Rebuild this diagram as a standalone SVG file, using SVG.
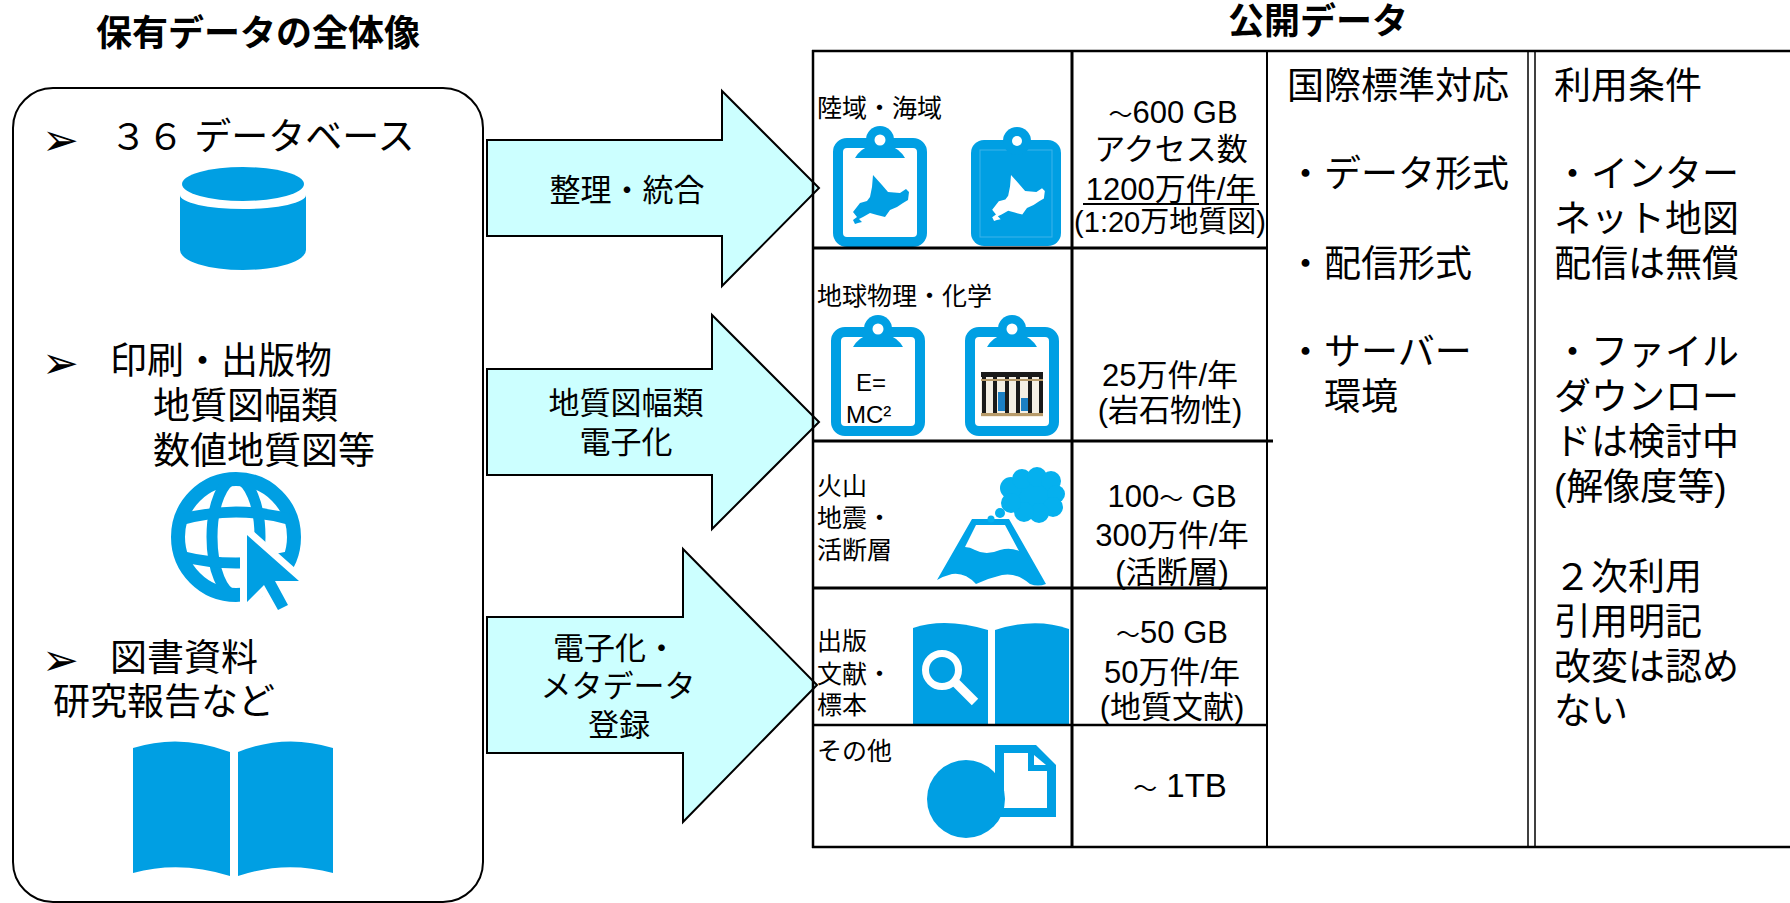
<svg xmlns="http://www.w3.org/2000/svg" xmlns:xlink="http://www.w3.org/1999/xlink" width="1790" height="903" viewBox="0 0 1790 903">
  <style>
    .t { font-family: "Liberation Sans", "Noto Sans CJK JP", sans-serif; fill: #000; }
    .h { font-size: 36px; font-weight: bold; text-anchor: middle; }
    .l { font-size: 37px; }
    .a { font-size: 31px; text-anchor: middle; }
    .c1 { font-size: 25px; }
    .c2 { font-size: 31px; text-anchor: middle; }
    .c2s { font-size: 29px; text-anchor: middle; }
    .c3 { font-size: 37px; }
    .tl { font-size: 24px; }
    .bul { font-family: "DejaVu Sans", sans-serif; font-size: 44px; fill: #000; }
    .ico { fill: #009FE3; }
    .arrow { fill: #CCFFFF; stroke: #000; stroke-width: 2; stroke-linejoin: miter; }
    .grid { stroke: #000; fill: none; }
  </style>
  <defs>
    <!-- outlined clipboard, local box 94 x 109 -->
    <g id="clipboard">
      <rect x="5" y="5" width="84" height="99" rx="9" fill="#fff" stroke="#009FE3" stroke-width="10"/>
      <path class="ico" d="M22 20 Q28 10 36 9 L58 9 Q66 10 72 20 Z"/>
      <circle class="ico" cx="47" cy="2" r="14"/>
      <circle cx="47" cy="2" r="5.5" fill="#fff"/>
    </g>
    <path id="hokkaido" d="M873 175 L882 185 L888 192 L900 193 L906 189 L909 192 L908 200 L903 203 L897 207 L890 210 L885 217 L877 215 L870 213 L863 217 L859 219 L862 222 L858 223 L855 224 L853 220 L857 217 L853 212 L860 203 L867 201 L870 197 L872 187 Z"/>
  </defs>

  <!-- headings -->
  <g id="heading-holdings">
    <text class="t h" x="258" y="46">保有データの全体像</text>
  </g>
  <g id="heading-public">
    <text class="t h" x="1318" y="34">公開データ</text>
  </g>

  <!-- holdings panel -->
  <g id="holdings">
    <rect x="13" y="88" width="470" height="814" rx="40" fill="none" stroke="#000" stroke-width="2"/>
    <text class="bul" x="42" y="155">➢</text>
    <text class="t l" x="110" y="150">３６ データベース</text>
    <!-- database cylinder -->
    <ellipse class="ico" cx="243" cy="184" rx="61" ry="17"/>
    <path class="ico" d="M180 195 A63 14 0 0 0 306 195 L306 250 A63 20 0 0 1 180 250 Z"/>

    <text class="bul" x="42" y="378">➢</text>
    <text class="t l" x="110" y="374">印刷・出版物</text>
    <text class="t l" x="153" y="419">地質図幅類</text>
    <text class="t l" x="153" y="464">数値地質図等</text>
    <!-- web globe with pointer -->
    <g fill="none" stroke="#009FE3">
      <circle cx="236" cy="537" r="58" stroke-width="14"/>
      <ellipse cx="236" cy="537" rx="24" ry="58" stroke-width="11"/>
      <path d="M180 520 Q236 504 292 520" stroke-width="11"/>
      <path d="M180 556 Q236 570 292 556" stroke-width="11"/>
    </g>
    <path d="M247 535 L247 602 L264 585 L278 610 L288 605 L275 581 L299 581 Z" fill="#fff" stroke="#fff" stroke-width="14" stroke-linejoin="round"/>
    <path class="ico" d="M247 535 L247 602 L264 585 L278 610 L288 605 L275 581 L299 581 Z"/>

    <text class="bul" x="42" y="675">➢</text>
    <text class="t l" x="110" y="671">図書資料</text>
    <text class="t l" x="53" y="715">研究報告など</text>
    <!-- open book -->
    <path class="ico" d="M133 748 Q180 733 230 752 L230 876 Q180 860 133 873 Z"/>
    <path class="ico" d="M238 752 Q285 733 333 748 L333 873 Q285 860 238 876 Z"/>
  </g>

  <!-- flow arrows -->
  <g id="connectors">
    <g id="arrow-organize">
      <polygon class="arrow" points="487,140 722,140 722,91 819,188 722,286 722,236 487,236"/>
      <text class="t a" x="627" y="201">整理・統合</text>
    </g>
    <g id="arrow-digitize-maps">
      <polygon class="arrow" points="487,369 712,369 712,315 819,422 712,529 712,475 487,475"/>
      <text class="t a" x="626" y="414">地質図幅類</text>
      <text class="t a" x="626" y="453">電子化</text>
    </g>
    <g id="arrow-metadata">
      <polygon class="arrow" points="487,617 683,617 683,549 817,685 683,822 683,753 487,753"/>
      <text class="t a" x="615" y="659">電子化・</text>
      <text class="t a" x="618" y="697">メタデータ</text>
      <text class="t a" x="619" y="736">登録</text>
    </g>
  </g>

  <!-- public data table -->
  <g id="public-data-table">
    <g id="row-land-sea">
      <text class="t c1" x="817" y="117">陸域・海域</text>
      <use xlink:href="#clipboard" x="833" y="138"/>
      <use xlink:href="#hokkaido" class="ico"/>
      <rect class="ico" x="971" y="140" width="90" height="106" rx="13"/>
      <rect x="980" y="150" width="72" height="87" fill="none" stroke="#3DB3EA" stroke-width="1"/>
      <circle class="ico" cx="1017" cy="141" r="14"/>
      <circle cx="1017" cy="141" r="5" fill="#fff"/>
      <use xlink:href="#hokkaido" fill="#fff" transform="translate(1011 175) scale(0.94) translate(-873 -175)"/>
      <text class="t c2" x="1173" y="123"><tspan class="tl">～</tspan>600 GB</text>
      <text class="t c2" x="1171" y="160">アクセス数</text>
      <text class="t c2" x="1171" y="200">1200万件/年</text>
      <line x1="1083" y1="204" x2="1259" y2="204" stroke="#000" stroke-width="2"/>
      <text class="t c2s" x="1170" y="232">(1:20万地質図)</text>
    </g>
    <g id="row-geophysics">
      <text class="t c1" x="817" y="305">地球物理・化学</text>
      <use xlink:href="#clipboard" x="831" y="327"/>
      <text class="t" x="856" y="391" font-size="24">E=</text>
      <text class="t" x="846" y="423" font-size="24">MC²</text>
      <use xlink:href="#clipboard" x="965" y="327"/>
      <!-- test tube rack -->
      <g>
        <rect x="981" y="372" width="62" height="45" fill="#F4EFE4"/>
        <rect x="998" y="392" width="7" height="19" fill="#1B7FC4"/>
        <rect x="1021" y="398" width="7" height="13" fill="#1B7FC4"/>
        <g fill="#1a1a1a">
          <rect x="982" y="372" width="4" height="43"/>
          <rect x="993" y="372" width="4" height="43"/>
          <rect x="1005" y="372" width="4" height="43"/>
          <rect x="1016" y="372" width="4" height="43"/>
          <rect x="1028" y="372" width="4" height="43"/>
          <rect x="1039" y="372" width="4" height="43"/>
          <rect x="981" y="372" width="62" height="5"/>
        </g>
        <rect x="981" y="379" width="62" height="2" fill="#B89B6A"/>
        <rect x="981" y="413" width="62" height="3" fill="#B89B6A"/>
      </g>
      <text class="t c2" x="1170" y="386">25万件/年</text>
      <text class="t c2" x="1170" y="421">(岩石物性)</text>
    </g>
    <g id="row-volcano">
      <text class="t c1" x="817" y="495">火山</text>
      <text class="t c1" x="817" y="527">地震・</text>
      <text class="t c1" x="817" y="559">活断層</text>
      <path d="M937 580 L972 519 L1009 519 L1046 584 Q1038 587 1030 584 Q1016 572 1002 575 Q989 578 976 584 Q965 572 952 574 Q944 576 937 580 Z" fill="#00A4E8"/>
      <path d="M976 525 L1005 525 L1019 551 Q1010 547 1000 550 Q986 556 975 550 Q970 547 965 547 Z" fill="#fff"/>
      <g fill="#05B0EE">
        <ellipse cx="1032" cy="496" rx="26" ry="19"/>
        <circle cx="1011" cy="488" r="11"/>
        <circle cx="1022" cy="479" r="10"/>
        <circle cx="1037" cy="477" r="10"/>
        <circle cx="1051" cy="481" r="10"/>
        <circle cx="1056" cy="494" r="9"/>
        <circle cx="1053" cy="507" r="10"/>
        <circle cx="1039" cy="513" r="10"/>
        <circle cx="1024" cy="512" r="10"/>
        <circle cx="1011" cy="503" r="10"/>
        <circle cx="1000" cy="513" r="5"/>
        <circle cx="991" cy="519" r="3.5"/>
      </g>
      <text class="t c2" x="1172" y="507">100<tspan class="tl">～</tspan> GB</text>
      <text class="t c2" x="1172" y="546">300万件/年</text>
      <text class="t c2" x="1172" y="583">(活断層)</text>
    </g>
    <g id="row-literature">
      <text class="t c1" x="817" y="650">出版</text>
      <text class="t c1" x="817" y="683">文献・</text>
      <text class="t c1" x="817" y="714">標本</text>
      <path class="ico" d="M913 628 Q945 617 988 630 L988 725 L913 725 Z"/>
      <path class="ico" d="M995 630 Q1035 617 1069 629 L1069 725 L995 725 Z"/>
      <circle cx="942" cy="670" r="16.5" fill="none" stroke="#fff" stroke-width="7"/>
      <line x1="956" y1="683" x2="975" y2="702" stroke="#fff" stroke-width="9"/>
      <text class="t c2" x="1172" y="643"><tspan class="tl">～</tspan>50 GB</text>
      <text class="t c2" x="1172" y="683">50万件/年</text>
      <text class="t c2" x="1172" y="718">(地質文献)</text>
    </g>
    <g id="row-other">
      <text class="t c1" x="817" y="760">その他</text>
      <path class="ico" d="M995 745 L1036 745 L1056 765 L1056 817 L995 817 Z"/>
      <path d="M1004 753 L1028 753 L1028 771 L1047 771 L1047 808 L1004 808 Z" fill="#fff"/>
      <path d="M1034 755 L1046 765 L1034 765 Z" fill="#fff"/>
      <circle class="ico" cx="966" cy="799" r="39"/>
      <text class="t" x="1180" y="797" font-size="33" text-anchor="middle"><tspan class="tl">～</tspan>  1TB</text>
    </g>
    <g id="col-standards">
      <text class="t c3" x="1287" y="99">国際標準対応</text>
      <text class="t c3" x="1287" y="187">・データ形式</text>
      <text class="t c3" x="1287" y="277">・配信形式</text>
      <text class="t c3" x="1287" y="365">・サーバー</text>
      <text class="t c3" x="1324" y="410">環境</text>
    </g>
    <g id="col-terms">
      <text class="t c3" x="1554" y="99">利用条件</text>
      <text class="t c3" x="1554" y="187">・インター</text>
      <text class="t c3" x="1554" y="232">ネット地図</text>
      <text class="t c3" x="1554" y="277">配信は無償</text>
      <text class="t c3" x="1554" y="365">・ファイル</text>
      <text class="t c3" x="1554" y="410">ダウンロー</text>
      <text class="t c3" x="1554" y="455">ドは検討中</text>
      <text class="t c3" x="1554" y="500">(解像度等)</text>
      <text class="t c3" x="1554" y="590">２次利用</text>
      <text class="t c3" x="1554" y="635">引用明記</text>
      <text class="t c3" x="1554" y="680">改変は認め</text>
      <text class="t c3" x="1554" y="724">ない</text>
    </g>
    <!-- grid lines -->
    <g class="grid">
      <line x1="812" y1="51" x2="1790" y2="51" stroke-width="2.5"/>
      <line x1="812" y1="847" x2="1790" y2="847" stroke-width="2.5"/>
      <line x1="813" y1="50" x2="813" y2="848" stroke-width="2.5"/>
      <line x1="1072" y1="50" x2="1072" y2="848" stroke-width="3"/>
      <line x1="1267" y1="50" x2="1267" y2="848" stroke-width="2"/>
      <line x1="1528" y1="50" x2="1528" y2="848" stroke-width="1.5"/>
      <line x1="1535" y1="50" x2="1535" y2="848" stroke-width="1.5"/>
      <line x1="813" y1="248" x2="1267" y2="248" stroke-width="3"/>
      <line x1="813" y1="441" x2="1273" y2="441" stroke-width="3"/>
      <line x1="813" y1="588" x2="1267" y2="588" stroke-width="3"/>
      <line x1="813" y1="725" x2="1267" y2="725" stroke-width="2.5"/>
    </g>
  </g>
</svg>
